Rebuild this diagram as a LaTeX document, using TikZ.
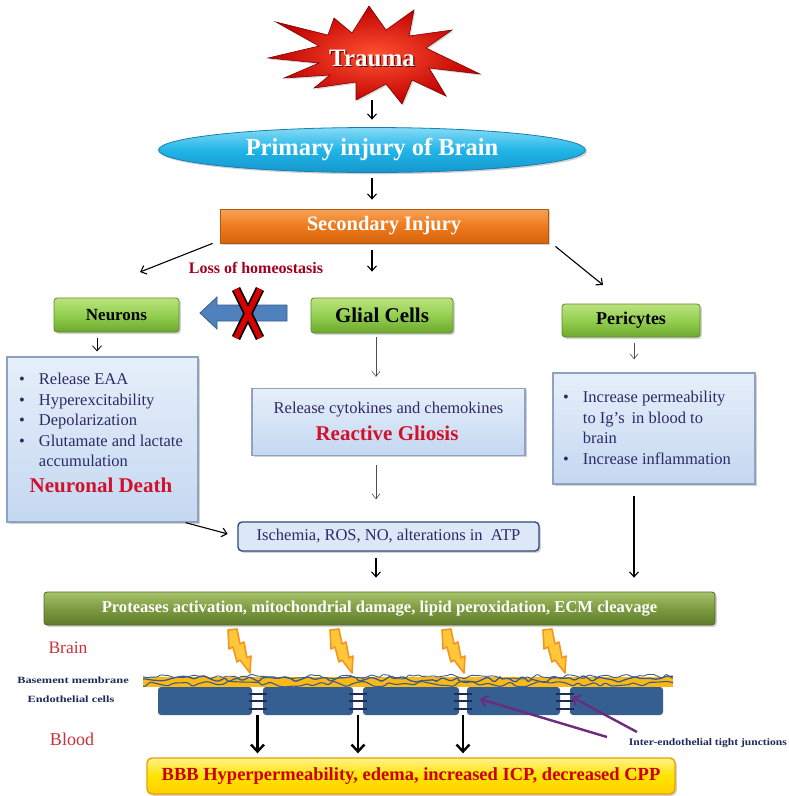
\documentclass[tikz,border=0pt]{standalone}
\usepackage{fontspec}
\usepackage{graphicx}
\setmainfont{Liberation Serif}
\usetikzlibrary{arrows.meta,shapes.geometric,shadows,calc,decorations.pathmorphing}

\definecolor{navytxt}{HTML}{2F2A66}
\definecolor{boldred}{HTML}{D0122C}
\definecolor{lossred}{HTML}{A3001E}
\definecolor{lblred}{HTML}{C8323C}
\definecolor{tinynavy}{HTML}{1F2A5A}
\definecolor{cellblue}{HTML}{365F91}
\definecolor{membrane}{HTML}{FDB913}
\definecolor{netblue}{HTML}{3B5B8C}
\definecolor{tjpurple}{HTML}{6B2C7E}
\definecolor{boltfill}{HTML}{FFC83A}
\definecolor{boltdraw}{HTML}{F7941D}
\definecolor{greentop}{HTML}{BCE27E}
\definecolor{greenmid}{HTML}{92D050}
\definecolor{greenbot}{HTML}{6EA72E}
\definecolor{greenedge}{HTML}{5B8C2A}
\definecolor{infotop}{HTML}{E6EFFA}
\definecolor{infobot}{HTML}{C4D8F1}
\definecolor{infoedge}{HTML}{8EA3C2}
\definecolor{cyantop}{HTML}{86DAF6}
\definecolor{cyanmid}{HTML}{21B5E8}
\definecolor{cyanbot}{HTML}{1597CD}
\definecolor{cyanedge}{HTML}{167FB2}
\definecolor{orangetop}{HTML}{F6A35A}
\definecolor{orangemid}{HTML}{EE7A1C}
\definecolor{orangebot}{HTML}{D6640E}
\definecolor{orangeedge}{HTML}{B4560F}
\definecolor{olivetop}{HTML}{A6C26A}
\definecolor{olivemid}{HTML}{7D9B41}
\definecolor{olivebot}{HTML}{5F7C2C}
\definecolor{oliveedge}{HTML}{4F6A24}
\definecolor{yellowtop}{HTML}{FFF38A}
\definecolor{yellowmid}{HTML}{FFE300}
\definecolor{yellowbot}{HTML}{FFD000}
\definecolor{yellowedge}{HTML}{E6A300}
\definecolor{arrowblue}{HTML}{4F81BD}
\definecolor{arrowedge}{HTML}{385D8A}
\definecolor{ischfill}{HTML}{DCE8F7}
\definecolor{ischedge}{HTML}{2E4B73}

\tikzset{
  arr/.style={-{Straight Barb[length=5pt,width=9pt]}, line width=1.1pt},
  thinarr/.style={-{Straight Barb[length=5pt,width=8pt]}, line width=0.6pt, draw=black!70},
  bigarr/.style={-{Straight Barb[length=7pt,width=13pt,line width=2.4pt]}, line width=2.6pt},
  purplearr/.style={-{Straight Barb[length=6pt,width=11pt,line width=2pt]}, line width=2.4pt, draw=tjpurple},
  softshadow/.style={drop shadow={opacity=0.35, shadow xshift=1.8pt, shadow yshift=-1.8pt}},
  greenbox/.style={rectangle, rounded corners=3pt, inner sep=0pt, draw=greenedge, line width=0.8pt,
    top color=greentop, bottom color=greenbot, middle color=greenmid,
    softshadow, text=black, font=\bfseries},
  infobox/.style={rectangle, inner sep=0pt, draw=infoedge, line width=1.3pt,
    top color=infotop, bottom color=infobot, softshadow},
  bodytxt/.style={text=navytxt, inner sep=0pt, font=\fontsize{16.5}{20.5}\selectfont},
  redtxt/.style={text=boldred, inner sep=0pt, font=\fontsize{21}{24}\selectfont\bfseries},
  tinytxt/.style={text=tinynavy, inner sep=0pt, font=\fontsize{9.5}{11}\selectfont\bfseries},
  cell/.style={rectangle, rounded corners=3pt, fill=cellblue, inner sep=0pt, minimum height=28pt},
  bolt/.pic={
    \filldraw[fill=boltfill, draw=boltdraw, line width=1.6pt, line join=round]
      (0,0) -- (9,-1) -- (12,14) -- (16,12) -- (19,28) -- (23,26) -- (22,43)
      -- (12,30) -- (9,32) -- (5,17) -- (1,19) -- cycle;
  }
}

\begin{document}
\begin{tikzpicture}[x=1pt, y=-1pt]
\useasboundingbox[fill=white] (0,0) rectangle (789,796);

% ---------- Trauma burst ----------
\begin{scope}[shift={(374,56)}, y=1pt]
  \path[draw=red!50!black, line width=0.6pt, inner color=red!70!orange!80, outer color=red!75!black,
        drop shadow={opacity=0.3, shadow xshift=1.5pt, shadow yshift=-1.5pt}]
    (-106,-2) -- (-55,10) -- (-98,34) -- (-46,21) -- (-40,38) -- (-22,23) -- (-5,50) -- (12,26)
    -- (40,46) -- (35,20) -- (78,26) -- (52,8) -- (106,-18) -- (55,-12) -- (72,-40) -- (38,-24)
    -- (28,-48) -- (12,-28) -- (-18,-44) -- (-18,-26) -- (-60,-32) -- (-44,-19) -- (-90,-22) -- (-55,-7) -- cycle;
\end{scope}
\node[text=red!40!black, font=\fontsize{25}{28}\selectfont\bfseries] (traumashade) at (373.2,59.2) {Trauma};
\node[text=white, font=\fontsize{25}{28}\selectfont\bfseries, minimum width=212pt, minimum height=90pt, inner sep=0pt]
  (trauma) at (372,58) {Trauma};

% ---------- Primary and secondary injury ----------
\node[ellipse, minimum width=427pt, minimum height=45pt, inner sep=0pt, draw=cyanedge, line width=0.8pt,
      top color=cyantop, bottom color=cyanbot, middle color=cyanmid, softshadow,
      text=white, font=\fontsize{24.5}{28}\selectfont\bfseries] (primary) at (372,150) {Primary injury of Brain};

\node[rectangle, minimum width=328pt, minimum height=34pt, inner sep=0pt, draw=orangeedge, line width=0.8pt,
      top color=orangetop, bottom color=orangebot, middle color=orangemid, softshadow,
      text=white, font=\fontsize{20.5}{23}\selectfont\bfseries] (secondary) at (384,226) {Secondary Injury};

\node[text=lossred, inner sep=0pt, font=\fontsize{16}{18}\selectfont\bfseries] (loss) at (256,268) {Loss of homeostasis};

% ---------- Cell types ----------
\node[greenbox, minimum width=125pt, minimum height=34pt, font=\fontsize{17}{20}\selectfont\bfseries] (neurons) at (116.5,315) {Neurons};
\node[greenbox, minimum width=142pt, minimum height=35pt, font=\fontsize{21}{24}\selectfont\bfseries] (glial) at (382,315.5) {Glial Cells};
\node[greenbox, minimum width=138pt, minimum height=33pt, font=\fontsize{18}{21}\selectfont\bfseries] (pericytes) at (631,320.5) {Pericytes};

% blocked signal from glia to neurons
\filldraw[fill=arrowblue, draw=arrowedge, line width=0.8pt]
  (200,313) -- (217,297) -- (217,305) -- (287,305) -- (287,321) -- (217,321) -- (217,329) -- cycle;
\draw[line width=9pt, black] (236,289) -- (260,338) (260,289) -- (236,338);
\draw[line width=5.5pt, red!85!black] (236,289) -- (260,338) (260,289) -- (236,338);

% ---------- Detail boxes ----------
\node[infobox, minimum width=191pt, minimum height=165pt] (ndetail) at (102.5,439.5) {};
\node[bodytxt, anchor=north west] (nlist) at (19,370) {%
  \begin{tabular}{@{}l@{\hspace{14pt}}l@{}}
  \textbullet & Release EAA\\
  \textbullet & Hyperexcitability\\
  \textbullet & Depolarization\\
  \textbullet & Glutamate and lactate\\
              & accumulation
  \end{tabular}};
\node[redtxt] (ndeath) at (101,485) {Neuronal Death};

\node[infobox, minimum width=273pt, minimum height=67pt] (gdetail) at (388.5,422) {};
\node[bodytxt] (gtext) at (388.5,410) {Release cytokines and chemokines};
\node[redtxt] (gliosis) at (387,433) {Reactive Gliosis};

\node[infobox, minimum width=202pt, minimum height=111pt] (pdetail) at (654,428.5) {};
\node[bodytxt, anchor=north west] (plist) at (563,388) {%
  \begin{tabular}{@{}l@{\hspace{14pt}}l@{}}
  \textbullet & Increase permeability\\
              & to Ig’s\, in blood to\\
              & brain\\
  \textbullet & Increase inflammation
  \end{tabular}};

\node[rectangle, rounded corners=4pt, minimum width=301pt, minimum height=29pt, inner sep=0pt,
      draw=ischedge, line width=1.4pt, fill=ischfill, softshadow,
      text=navytxt, font=\fontsize{16.5}{18}\selectfont] (isch) at (388.5,536.5) {Ischemia, ROS, NO, alterations in\ \ ATP};

\node[rectangle, rounded corners=3pt, minimum width=671pt, minimum height=33pt, inner sep=0pt,
      draw=oliveedge, line width=0.8pt,
      top color=olivetop, bottom color=olivebot, middle color=olivemid,
      softshadow, text=white, font=\fontsize{16.6}{18}\selectfont\bfseries] (proteases) at (379.5,608.5)
  {Proteases activation, mitochondrial damage, lipid peroxidation, ECM cleavage};

% ---------- Flow arrows ----------
\coordinate (lossTip) at (140,272);
\coordinate (periTip) at (603,285);
\draw[arr, shorten <=-3pt, shorten >=7.5pt] (trauma.south) -- (primary.north);
\draw[arr, shorten <=5.5pt, shorten >=9pt] (primary.south) -- ([xshift=-12pt]secondary.north);
\draw[arr] ([xshift=-7pt]secondary.south west) -- (lossTip);
\draw[arr, shorten <=7pt, shorten >=26pt] ([xshift=-12pt]secondary.south) -- ([xshift=-10pt]glial.north);
\draw[arr] ([xshift=7pt,yshift=-3pt]secondary.south east) -- (periTip);
\draw[arr, line width=0.8pt, shorten <=6pt, shorten >=5pt] ([xshift=-19.5pt]neurons.south) -- ([xshift=-5.5pt]ndetail.north);
\draw[thinarr, shorten <=4pt, shorten >=11pt] ([xshift=-6pt]glial.south) -- ([xshift=-12.5pt]gdetail.north);
\draw[thinarr, shorten <=6pt, shorten >=13pt] ([xshift=3pt]pericytes.south) -- ([xshift=-20pt]pdetail.north);
\draw[arr, shorten >=10pt] ([xshift=-13pt]ndetail.south east) -- (isch.west);
\draw[thinarr, shorten <=9pt, shorten >=22pt] ([xshift=-12.5pt]gdetail.south) -- ([xshift=-12.5pt]isch.north);
\draw[arr, shorten <=11pt, shorten >=14pt] ([xshift=-20pt]pdetail.south) -- ([xshift=254.5pt]proteases.north);
\draw[arr, shorten <=6pt, shorten >=14pt] ([xshift=-12.5pt]isch.south) -- ([xshift=-3.5pt]proteases.north);

% ---------- Blood-brain barrier ----------
\node[text=lblred, inner sep=0pt, font=\fontsize{17.5}{20}\selectfont] (brainlbl) at (68,648) {Brain};
\node[text=lblred, inner sep=0pt, font=\fontsize{18}{20}\selectfont] (bloodlbl) at (72,739) {Blood};
\node[tinytxt] (bmlbl) at (73,680) {\scalebox{1.3}[1]{Basement membrane}};
\node[tinytxt] (eclbl) at (71,699) {\scalebox{1.3}[1]{Endothelial cells}};

\foreach \bx in {228,330,442,543} \pic at (\bx,630) {bolt};

\fill[membrane] (143,677) rectangle (673,687);
\begin{scope}
  \clip (143,674) rectangle (673,688);
  \pgfmathsetseed{11}
  \draw[netblue, line width=1.3pt, rounded corners=1.5pt, decorate,
        decoration={random steps, segment length=6pt, amplitude=3.5pt}] (138,679) -- (678,679);
  \draw[netblue, line width=1.1pt, rounded corners=1.5pt, decorate,
        decoration={random steps, segment length=7pt, amplitude=3pt}] (138,684) -- (678,684);
  \draw[netblue, line width=0.9pt, rounded corners=1pt, decorate,
        decoration={random steps, segment length=5pt, amplitude=2.5pt}] (138,676.5) -- (678,676.5);
\end{scope}

\node[cell, minimum width=94pt] (cell1) at (205,701) {};
\node[cell, minimum width=90pt] (cell2) at (308,701) {};
\node[cell, minimum width=96pt] (cell3) at (411,701) {};
\node[cell, minimum width=93pt] (cell4) at (513.5,701) {};
\node[cell, minimum width=93pt] (cell5) at (616.5,701) {};

\coordinate (g1) at ($(cell1.east)!0.5!(cell2.west)$);
\coordinate (g2) at ($(cell2.east)!0.5!(cell3.west)$);
\coordinate (g3) at ($(cell3.east)!0.5!(cell4.west)$);
\coordinate (g4) at ($(cell4.east)!0.5!(cell5.west)$);
\foreach \g in {g1,g2,g3,g4} {
  \draw[tinynavy, line width=1.1pt]
    ([xshift=-9pt,yshift=-8pt]\g) -- ([xshift=9pt,yshift=-8pt]\g)
    ([xshift=-9pt]\g) -- ([xshift=9pt]\g)
    ([xshift=-9pt,yshift=7pt]\g) -- ([xshift=9pt,yshift=7pt]\g);
}

\node[rectangle, rounded corners=5pt, minimum width=528pt, minimum height=36pt, inner sep=0pt,
      draw=yellowedge, line width=1.4pt,
      top color=yellowtop, bottom color=yellowbot, middle color=yellowmid,
      softshadow, text=red!80!black, font=\fontsize{18.5}{20}\selectfont\bfseries] (bbb) at (411,776)
  {BBB Hyperpermeability, edema, increased ICP, decreased CPP};

\foreach \g in {g1,g2,g3}
  \draw[bigarr, shorten <=14pt, shorten >=4pt] (\g) -- (\g |- bbb.north);

\node[tinytxt, anchor=east] (tjlbl) at (787,743) {\scalebox{1.22}[1.05]{Inter-endothelial tight junctions}};
\coordinate (tjA) at (607,737);
\coordinate (tjB) at (637,732);
\draw[purplearr] (tjA) -- ([xshift=13pt,yshift=2pt]cell4.west);
\draw[purplearr] (tjB) -- ([xshift=2pt,yshift=4pt]cell5.west);

\end{tikzpicture}
\end{document}
